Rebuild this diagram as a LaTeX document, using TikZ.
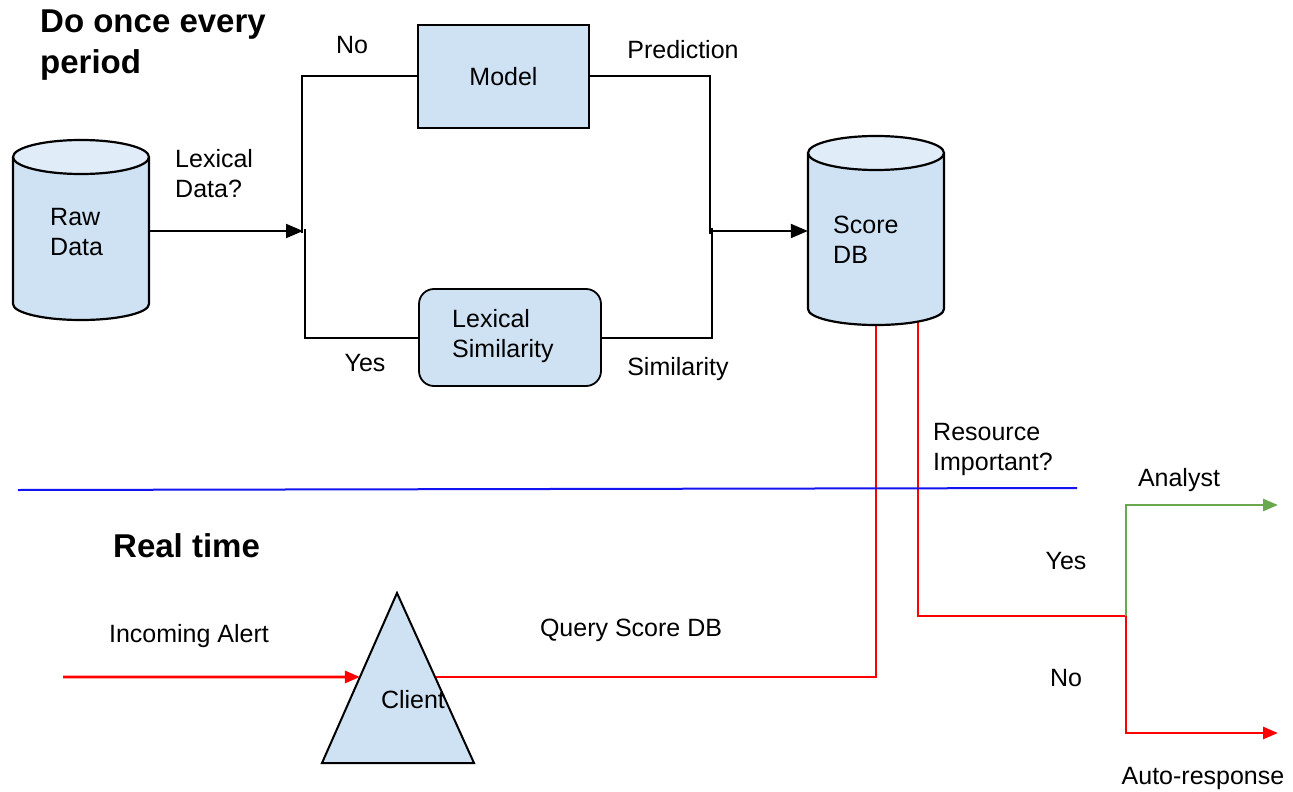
\documentclass[tikz,border=0pt]{standalone}
\usepackage{fontspec}
\setmainfont{Liberation Sans}
\usetikzlibrary{arrows.meta,calc}
\pgfdeclarelayer{paper}
\pgfdeclarelayer{wires}
\pgfsetlayers{paper,wires,main}
\definecolor{boxblue}{HTML}{CFE2F3}
\definecolor{capblue}{HTML}{E0ECF8}
\definecolor{flowred}{HTML}{FF0000}
\definecolor{flowgreen}{HTML}{6AA84F}
\definecolor{divider}{HTML}{1414F0}
\begin{document}
\begin{tikzpicture}[x=1pt,y=-1pt,
  lbl/.style={font=\fontsize{25}{30}\selectfont, inner sep=0pt},
  heading/.style={font=\fontsize{33}{41}\selectfont\bfseries, inner sep=0pt, align=left},
  box/.style={draw, line width=1.8pt, fill=boxblue, inner sep=0pt,
    font=\fontsize{25}{30}\selectfont},
  cylside/.style={draw, line width=2.2pt},
  wire/.style={line width=2pt, black},
  redwire/.style={line width=2.8pt, flowred},
  greenwire/.style={line width=2.8pt, flowgreen},
  tip/.style={-{Triangle[length=17pt,width=14pt]}},
  smalltip/.style={-{Triangle[length=15pt,width=12pt]}}
]
\begin{pgfonlayer}{paper}
  \fill[white] (0,0) rectangle (1293,792);
\end{pgfonlayer}
\useasboundingbox (0,0) rectangle (1293,792);

% ---------- Raw Data store ----------
\fill[boxblue] (13,157) -- (13,304) arc[start angle=180,end angle=360,x radius=68pt,y radius=16pt] -- (149,157) -- cycle;
\draw[cylside] (13,157) -- (13,304) arc[start angle=180,end angle=360,x radius=68pt,y radius=16pt] -- (149,157);
\filldraw[cylside, fill=capblue] (81,157) ellipse[x radius=68pt, y radius=17pt];
\node[minimum width=136pt, minimum height=147pt, inner sep=0pt] (raw) at (81,231) {};
\node[lbl, align=left, anchor=west] (rawtext) at (50,232) {Raw\\Data};

% ---------- Score DB store ----------
\fill[boxblue] (808,153) -- (808,309) arc[start angle=180,end angle=360,x radius=68pt,y radius=16pt] -- (944,153) -- cycle;
\draw[cylside] (808,153) -- (808,309) arc[start angle=180,end angle=360,x radius=68pt,y radius=16pt] -- (944,153);
\filldraw[cylside, fill=capblue] (876,153) ellipse[x radius=68pt, y radius=17pt];
\node[minimum width=136pt, minimum height=156pt, inner sep=0pt] (score) at (876,231) {};
\node[lbl, align=left, anchor=west] (scoretext) at (833,240) {Score\\DB};

% ---------- processing boxes ----------
\node[box, minimum width=171pt, minimum height=103pt] (model) at (503.5,76.5) {Model};
\node[box, rounded corners=15pt, minimum width=182pt, minimum height=97pt] (lexsim) at (510,337.5) {};
\node[lbl, align=left, anchor=west] (lexsimtext) at (452,336) {Lexical\\Similarity};

% ---------- client ----------
\coordinate (tA) at (397,593);
\coordinate (tL) at (322,763);
\coordinate (tR) at (474,763);
\filldraw[line width=2pt, fill=boxblue, line join=miter] (tA) -- (tR) -- (tL) -- cycle;
\node[lbl] (client) at (413,700) {Client};
\coordinate (clientIn) at ($(tA)!0.494!(tL)$);
\coordinate (clientOut) at ($(tA)!0.494!(tR)$);

% ---------- junction points ----------
\coordinate (split) at (303,231);
\coordinate (splitTop) at (302,233);
\coordinate (splitBot) at (305,229);
\coordinate (mergeTop) at (710,234);
\coordinate (mergeBot) at (712,228);
\coordinate (merge) at (713,231);
\coordinate (alertStart) at (63,677);
\coordinate (fork) at (1126,616);
\coordinate (analystEnd) at (1278,505);
\coordinate (autoEnd) at (1278,733);

% ---------- connectors ----------
\begin{pgfonlayer}{wires}
  \draw[wire, tip] (raw.east) -- (split);
  \draw[wire] (splitTop) |- (model.west);
  \draw[wire] (splitBot) |- (lexsim.west);
  \draw[wire] (model.east) -| (mergeTop);
  \draw[wire] (lexsim.east) -| (mergeBot);
  \draw[wire, tip] (merge) -- (score.west);

  \draw[redwire, smalltip] (alertStart) -- (clientIn);
  \draw[redwire] (clientOut) -| (score.south);
  \draw[redwire] ($(score.south)+(42,0)$) |- (fork);
  \draw[greenwire, smalltip] (fork) |- (analystEnd);
  \draw[redwire, smalltip] (fork) |- (autoEnd);

  \draw[line width=2pt, divider] (18,490) -- (1077,488);
\end{pgfonlayer}

% ---------- labels ----------
\node[heading, anchor=north west] (hdperiod) at (40,10) {Do once every\\period};
\node[heading, anchor=base west] (hdreal) at (113,557) {Real time};
\node[lbl, align=left, anchor=west] (lexq) at (175,174) {Lexical\\Data?};
\node[lbl] (noA) at (352,45) {No};
\node[lbl] (yesA) at (365,363.5) {Yes};
\node[lbl] (pred) at (683,50) {Prediction};
\node[lbl] (simil) at (678,369.5) {Similarity};
\node[lbl, align=left, anchor=west] (resq) at (933,449) {Resource\\Important?};
\node[lbl] (alert) at (189,636.5) {Incoming Alert};
\node[lbl] (query) at (631,630.5) {Query Score DB};
\node[lbl] (analyst) at (1179,480.5) {Analyst};
\node[lbl] (yesB) at (1066,561.5) {Yes};
\node[lbl] (noB) at (1066,678) {No};
\node[lbl] (auto) at (1203,778) {Auto-response};
\end{tikzpicture}
\end{document}
